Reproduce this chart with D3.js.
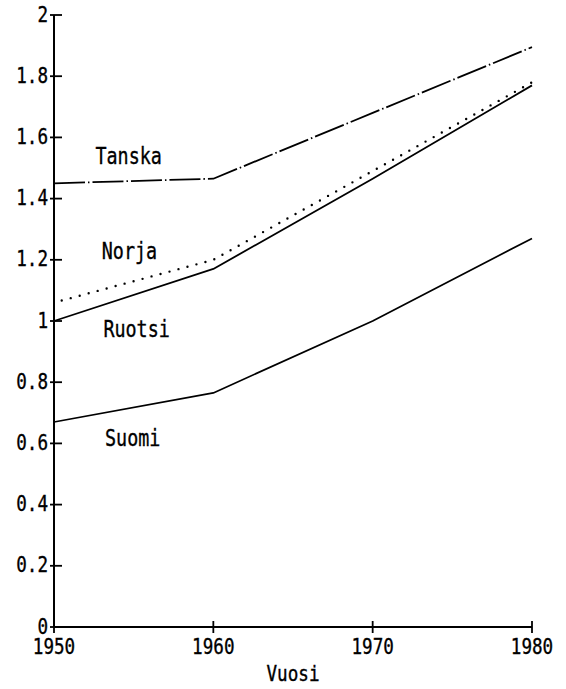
<!DOCTYPE html>
<html>
<head>
<meta charset="utf-8">
<script src="https://cdn.jsdelivr.net/npm/d3@7"></script>
<style>
  html, body { margin: 0; padding: 0; background: #fff; }
  svg { display: block; }
  text { font-family: "DejaVu Sans Mono", monospace; fill: #000; stroke: #000; stroke-width: 0.35px; }
</style>
</head>
<body>
<svg id="vis" width="566" height="689"></svg>
<script>
// chart values
const years = [1950, 1960, 1970, 1980];
const tanska = [1.45, 1.465, 1.68, 1.895];
const norja = [1.06, 1.20, 1.49, 1.78];
const ruotsi = [1.0, 1.17, 1.465, 1.77];
const suomi = [0.67, 0.765, 1.0, 1.27];

const yTicks = [0, 0.2, 0.4, 0.6, 0.8, 1, 1.2, 1.4, 1.6, 1.8, 2];
const yTickLabels = ["0", "0.2", "0.4", "0.6", "0.8", "1", "1.2", "1.4", "1.6", "1.8", "2"];
const xTickLabels = ["1950", "1960", "1970", "1980"];
const xTitle = "Vuosi";

const seriesNames = ["Tanska", "Norja", "Ruotsi", "Suomi"];
const seriesValues = [tanska, norja, ruotsi, suomi];

const svg = d3.select('#vis');

const x = d3.scaleLinear().domain([1950, 1980]).range([54, 532]);
const y = d3.scaleLinear().domain([0, 2]).range([627, 15]);

// line styles: dash-dot, dotted, solid, solid
const dashStyle = {
    "Tanska": {dash: "31,3,1.5,3", cap: "butt", width: 1.8, offset: 0},
    "Norja": {dash: "0,9.3", cap: "round", width: 2.4, offset: 1.3},
    "Ruotsi": {dash: null, cap: "butt", width: 1.8, offset: 0},
    "Suomi": {dash: null, cap: "butt", width: 1.7, offset: 0}
};

// label anchors in data units (year, value)
const labelAt = {
    "Tanska": [1952.6, 1.513],
    "Norja": [1953.0, 1.201],
    "Ruotsi": [1953.1, 0.949],
    "Suomi": [1953.2, 0.593]
};

// squeezed monospace text, close to the plotter lettering
function label(g, px, py, str, size, sx, anchor) {
    return g.append("text")
        .attr("transform", "translate(" + px + "," + py + ") scale(" + sx + ",1)")
        .attr("text-anchor", anchor || "start")
        .style("font-size", size + "px")
        .text(str);
}

// axes
var axes = svg.append("g").attr("class", "axes");

axes.append("line")
    .attr("x1", x(1950)).attr("x2", x(1950))
    .attr("y1", y(2)).attr("y2", y(0))
    .attr("stroke", "#000").attr("stroke-width", 2);

axes.append("line")
    .attr("x1", x(1950)).attr("x2", x(1980))
    .attr("y1", y(0)).attr("y2", y(0))
    .attr("stroke", "#000").attr("stroke-width", 2);

yTicks.forEach(function (t, i) {
    axes.append("line")
        .attr("x1", x(1950) - 4).attr("x2", x(1950) + 8)
        .attr("y1", y(t)).attr("y2", y(t))
        .attr("stroke", "#000").attr("stroke-width", 1.8);
    label(axes, x(1950) - 6, y(t) + 6.5, yTickLabels[i], 20.5, 0.86, "end");
});

years.forEach(function (yr, i) {
    axes.append("line")
        .attr("x1", x(yr)).attr("x2", x(yr))
        .attr("y1", y(0) - 6).attr("y2", y(0) + 6)
        .attr("stroke", "#000").attr("stroke-width", 1.8);
    label(axes, x(yr), y(0) + 27, xTickLabels[i], 20.5, 0.86, "middle");
});

label(axes, (x(1950) + x(1980)) / 2, 681, xTitle, 20.5, 0.86, "middle");

// lines
var line = d3.line()
    .x(function (d) { return x(d[0]); })
    .y(function (d) { return y(d[1]); });

seriesNames.forEach(function (name, i) {
    var pts = years.map(function (yr, j) { return [yr, seriesValues[i][j]]; });
    var st = dashStyle[name];
    var p = svg.append("path")
        .datum(pts)
        .attr("d", line)
        .attr("fill", "none")
        .attr("stroke", "#000")
        .attr("stroke-width", st.width)
        .attr("stroke-linecap", st.cap)
        .attr("stroke-linejoin", "round");
    if (st.dash) {
        p.attr("stroke-dasharray", st.dash)
            .attr("stroke-dashoffset", st.offset);
    }

    var pos = labelAt[name];
    label(svg, x(pos[0]), y(pos[1]), name, 23, 0.8);
});
</script>
</body>
</html>
